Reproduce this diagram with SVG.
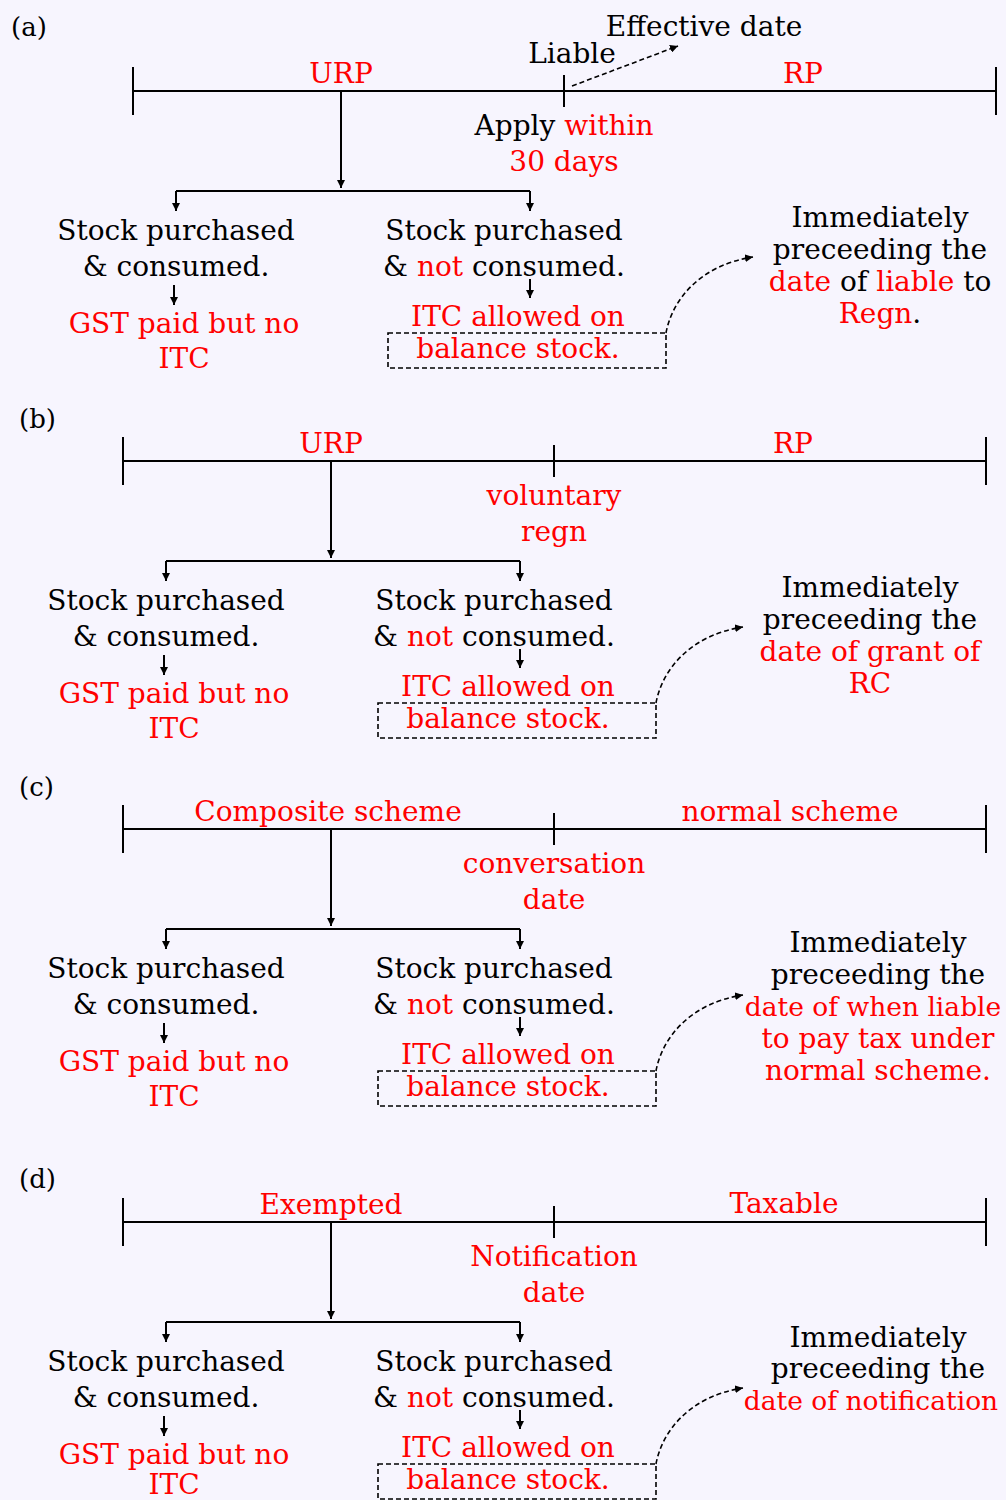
<svg xmlns="http://www.w3.org/2000/svg" width="1006" height="1500" viewBox="0 0 1006 1500">
<defs>
<marker id="ah" markerUnits="userSpaceOnUse" markerWidth="9" markerHeight="8" refX="8" refY="4" orient="auto">
<path d="M0,0 L8,4 L0,8 Z" fill="#000"/>
</marker>
<style>
text{font-family:"DejaVu Serif","Liberation Serif",serif;font-size:28px;fill:#000;text-anchor:middle}
.r{fill:#f00}
.sm{font-size:26.5px}
.lbl{font-size:26px;text-anchor:start}
.ln{stroke:#000;stroke-width:2;fill:none}
.ar{stroke:#000;stroke-width:2;fill:none;marker-end:url(#ah)}
.ds{stroke:#000;stroke-width:1.6;fill:none;stroke-dasharray:5 3}
.dsa{stroke:#000;stroke-width:1.6;fill:none;stroke-dasharray:5 3;marker-end:url(#ah)}
</style>
</defs>
<rect width="1006" height="1500" fill="#F7F5FE"/>

<g id="connectors">
<g id="conn-a">
<path class="ln" d="M133,91 H996 M133,67 V115 M996,67 V115 M564,75 V107"/>
<path class="dsa" d="M572,86 L678,46"/>
<path class="ar" d="M341,91 V188"/>
<path class="ln" d="M176,191 H530"/>
<path class="ar" d="M176,191 V211"/>
<path class="ar" d="M530,191 V211"/>
<path class="ar" d="M174,285 V305"/>
<path class="ar" d="M530,279 V298"/>
<rect class="ds" x="388" y="333" width="278" height="35"/>
<path class="dsa" d="M666,333 C672,300 700,265 753,257"/>
</g>
<g id="conn-b">
<path class="ln" d="M123,461 H986 M123,437 V485 M986,437 V485 M554,445 V477"/>
<path class="ar" d="M331,461 V558"/>
<path class="ln" d="M166,561 H520"/>
<path class="ar" d="M166,561 V581"/>
<path class="ar" d="M520,561 V581"/>
<path class="ar" d="M164,655 V675"/>
<path class="ar" d="M520,649 V668"/>
<rect class="ds" x="378" y="703" width="278" height="35"/>
<path class="dsa" d="M656,703 C662,670 690,635 743,627"/>
</g>
<g id="conn-c">
<path class="ln" d="M123,829 H986 M123,805 V853 M986,805 V853 M554,813 V845"/>
<path class="ar" d="M331,829 V926"/>
<path class="ln" d="M166,929 H520"/>
<path class="ar" d="M166,929 V949"/>
<path class="ar" d="M520,929 V949"/>
<path class="ar" d="M164,1023 V1043"/>
<path class="ar" d="M520,1017 V1036"/>
<rect class="ds" x="378" y="1071" width="278" height="35"/>
<path class="dsa" d="M656,1071 C662,1038 690,1003 743,995"/>
</g>
<g id="conn-d">
<path class="ln" d="M123,1222 H986 M123,1198 V1246 M986,1198 V1246 M554,1206 V1238"/>
<path class="ar" d="M331,1222 V1319"/>
<path class="ln" d="M166,1322 H520"/>
<path class="ar" d="M166,1322 V1342"/>
<path class="ar" d="M520,1322 V1342"/>
<path class="ar" d="M164,1416 V1436"/>
<path class="ar" d="M520,1410 V1429"/>
<rect class="ds" x="378" y="1464" width="278" height="35"/>
<path class="dsa" d="M656,1464 C662,1431 690,1396 743,1388"/>
</g>
</g>

<g id="sec-a">
<text id="label-a" class="lbl" x="11" y="36">(a)</text>
<g id="a-urp"><text class="r" x="341" y="83">URP</text></g>
<g id="a-rp"><text class="r" x="803" y="83">RP</text></g>
<g id="a-liable"><text x="572" y="63">Liable</text></g>
<g id="a-effective"><text x="704" y="36">Effective date</text></g>
<g id="a-apply"><text x="564" y="135">Apply <tspan class="r">within</tspan></text><text class="r" x="564" y="171">30 days</text></g>
<g id="a-consumed"><text x="176" y="240">Stock purchased</text><text x="176" y="276">&amp; consumed.</text></g>
<g id="a-noitc"><text class="r" x="184" y="333">GST paid but no</text><text class="r" x="184" y="368">ITC</text></g>
<g id="a-notconsumed"><text x="504" y="240">Stock purchased</text><text x="504" y="276">&amp; <tspan class="r">not</tspan> consumed.</text></g>
<g id="a-itc"><text class="r" x="518" y="326">ITC allowed on</text><text class="r" x="518" y="358">balance stock.</text></g>
<g id="a-immediately"><text x="880" y="227">Immediately</text><text x="880" y="259">preceeding the</text><text x="880" y="291"><tspan class="r">date</tspan> of <tspan class="r">liable</tspan> to</text><text x="880" y="323"><tspan class="r">Regn</tspan>.</text></g>
</g>

<g id="sec-b">
<text id="label-b" class="lbl" x="19" y="428">(b)</text>
<g id="b-urp"><text class="r" x="331" y="453">URP</text></g>
<g id="b-rp"><text class="r" x="793" y="453">RP</text></g>
<g id="b-voluntary"><text class="r" x="554" y="505">voluntary</text><text class="r" x="554" y="541">regn</text></g>
<g id="b-consumed"><text x="166" y="610">Stock purchased</text><text x="166" y="646">&amp; consumed.</text></g>
<g id="b-noitc"><text class="r" x="174" y="703">GST paid but no</text><text class="r" x="174" y="738">ITC</text></g>
<g id="b-notconsumed"><text x="494" y="610">Stock purchased</text><text x="494" y="646">&amp; <tspan class="r">not</tspan> consumed.</text></g>
<g id="b-itc"><text class="r" x="508" y="696">ITC allowed on</text><text class="r" x="508" y="728">balance stock.</text></g>
<g id="b-immediately"><text x="870" y="597">Immediately</text><text x="870" y="629">preceeding the</text><text class="r" x="870" y="661">date of grant of</text><text class="r" x="870" y="693">RC</text></g>
</g>

<g id="sec-c">
<text id="label-c" class="lbl" x="19" y="796">(c)</text>
<g id="c-composite"><text class="r" x="328" y="821">Composite scheme</text></g>
<g id="c-normal"><text class="r" x="790" y="821">normal scheme</text></g>
<g id="c-conversation"><text class="r" x="554" y="873">conversation</text><text class="r" x="554" y="909">date</text></g>
<g id="c-consumed"><text x="166" y="978">Stock purchased</text><text x="166" y="1014">&amp; consumed.</text></g>
<g id="c-noitc"><text class="r" x="174" y="1071">GST paid but no</text><text class="r" x="174" y="1106">ITC</text></g>
<g id="c-notconsumed"><text x="494" y="978">Stock purchased</text><text x="494" y="1014">&amp; <tspan class="r">not</tspan> consumed.</text></g>
<g id="c-itc"><text class="r" x="508" y="1064">ITC allowed on</text><text class="r" x="508" y="1096">balance stock.</text></g>
<g id="c-immediately"><text x="878" y="952">Immediately</text><text x="878" y="984">preceeding the</text><text class="r sm" x="873" y="1016">date of when liable</text><text class="r" x="878" y="1048">to pay tax under</text><text class="r" x="878" y="1080">normal scheme.</text></g>
</g>

<g id="sec-d">
<text id="label-d" class="lbl" x="19" y="1188">(d)</text>
<g id="d-exempted"><text class="r" x="331" y="1214">Exempted</text></g>
<g id="d-taxable"><text class="r" x="784" y="1213">Taxable</text></g>
<g id="d-notification"><text class="r" x="554" y="1266">Notification</text><text class="r" x="554" y="1302">date</text></g>
<g id="d-consumed"><text x="166" y="1371">Stock purchased</text><text x="166" y="1407">&amp; consumed.</text></g>
<g id="d-noitc"><text class="r" x="174" y="1464">GST paid but no</text><text class="r" x="174" y="1494">ITC</text></g>
<g id="d-notconsumed"><text x="494" y="1371">Stock purchased</text><text x="494" y="1407">&amp; <tspan class="r">not</tspan> consumed.</text></g>
<g id="d-itc"><text class="r" x="508" y="1457">ITC allowed on</text><text class="r" x="508" y="1489">balance stock.</text></g>
<g id="d-immediately"><text x="878" y="1347">Immediately</text><text x="878" y="1378">preceeding the</text><text class="r sm" x="871" y="1410">date of notification</text></g>
</g>
</svg>
